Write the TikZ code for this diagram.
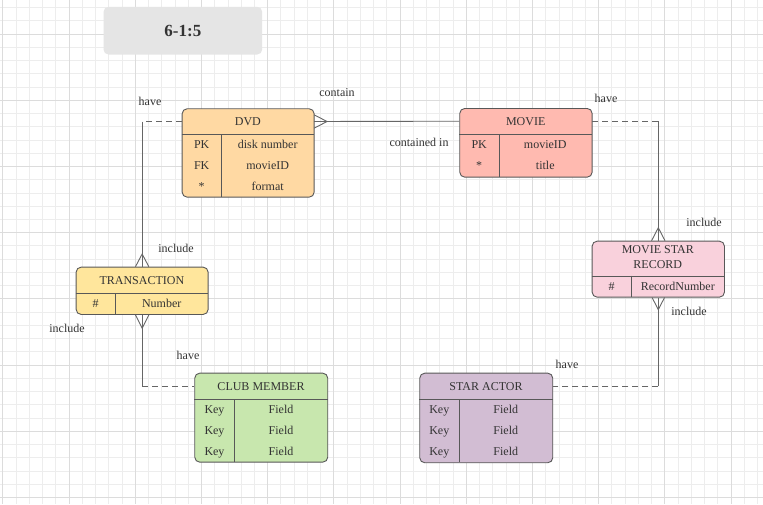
\documentclass[tikz,border=0pt]{standalone}
\usepackage{fontspec}
\setmainfont{Liberation Serif}
\usetikzlibrary{calc}

\definecolor{gridminor}{HTML}{EDEDED}
\definecolor{gridmajor}{HTML}{DCDCDC}
\definecolor{inkline}{HTML}{666666}
\definecolor{border}{HTML}{585858}
\definecolor{txt}{HTML}{333333}
\definecolor{dvdfill}{HTML}{FFD9A3}
\definecolor{moviefill}{HTML}{FFBAB0}
\definecolor{transfill}{HTML}{FFE69C}
\definecolor{msrfill}{HTML}{F9D1DC}
\definecolor{clubfill}{HTML}{C8E7AE}
\definecolor{starfill}{HTML}{D2BDD3}
\definecolor{titlefill}{HTML}{E5E5E5}

\begin{document}
\begin{tikzpicture}[x=1pt,y=-1pt,
  every node/.style={inner sep=0pt, text=txt},
  basefont/.style={font=\fontsize{12}{14}\selectfont, text height=8pt, text depth=0pt},
  entbox/.style={draw=border, line width=0.9pt, rounded corners=5pt, anchor=north west, minimum width=132pt},
  hdr/.style={basefont, anchor=north west, minimum width=132pt, minimum height=26pt},
  cell/.style={basefont},
  lbl/.style={basefont},
  rowline/.style={draw=border, line width=0.9pt},
  conn/.style={draw=inkline, line width=0.9pt},
  dashconn/.style={conn, dash pattern=on 6pt off 4pt},
  gminor/.style={draw=gridminor, line width=0.7pt},
  gmajor/.style={draw=gridmajor, line width=0.8pt}
]

% page and grid
\fill[white] (0,0) rectangle (763,504);
\useasboundingbox (0,0) rectangle (763,504);
\foreach \k in {0,...,57} \draw[gminor] ({2.8+13.24*\k},0) -- ({2.8+13.24*\k},504);
\foreach \k in {0,...,37} \draw[gminor] (0,{7.52+13.24*\k}) -- (763,{7.52+13.24*\k});
\foreach \k in {0,...,11} \draw[gmajor] ({2.8+66.2*\k},0) -- ({2.8+66.2*\k},504);
\foreach \k in {0,...,7} \draw[gmajor] (0,{34+66.2*\k}) -- (763,{34+66.2*\k});

% title
\node[fill=titlefill, rounded corners=5pt, minimum width=158.7pt, minimum height=47.6pt,
      anchor=north west, font=\bfseries\fontsize{17}{20}\selectfont] (title) at (103.3,6.7) {6-1:5};

% DVD
\node[entbox, fill=dvdfill, minimum height=88.4pt] (dvd) at (181.7,108.3) {};
\node[hdr] (dvdH) at (dvd.north west) {DVD};
\draw[rowline] (dvdH.south west) -- (dvdH.south east);
\draw[rowline] (221.7,134.3) -- (221.7,196.7);
\node[cell] (dvdk1) at (201.7,144.7) {PK};
\node[cell] (dvdf1) at (267.7,144.7) {disk number};
\node[cell] (dvdk2) at (201.7,165.5) {FK};
\node[cell] (dvdf2) at (267.7,165.5) {movieID};
\node[cell] (dvdk3) at (201.7,186.3) {*};
\node[cell] (dvdf3) at (267.7,186.3) {format};

% MOVIE
\node[entbox, fill=moviefill, minimum height=68.7pt, minimum width=132.4pt] (movie) at (459.3,108) {};
\node[hdr, minimum width=132.4pt] (movieH) at (movie.north west) {MOVIE};
\draw[rowline] (movieH.south west) -- (movieH.south east);
\draw[rowline] (499,134) -- (499,176.7);
\node[cell] (moviek1) at (479.2,144.5) {PK};
\node[cell] (movief1) at (545.3,144.5) {movieID};
\node[cell] (moviek2) at (479.2,165.5) {*};
\node[cell] (movief2) at (545.3,165.5) {title};

% TRANSACTION
\node[entbox, fill=transfill, minimum height=47.3pt] (trans) at (75.7,266.7) {};
\node[hdr, minimum height=26.3pt] (transH) at (trans.north west) {TRANSACTION};
\draw[rowline] (transH.south west) -- (transH.south east);
\draw[rowline] (115.7,293) -- (115.7,314);
\node[cell] (transk1) at (95.7,303.5) {\#};
\node[cell] (transf1) at (161.7,303.5) {Number};

% MOVIE STAR RECORD
\node[entbox, fill=msrfill, minimum height=56pt, minimum width=132.3pt] (msr) at (591.7,240.7) {};
\node[hdr, minimum width=132.3pt, minimum height=35pt] (msrH) at (msr.north west) {};
\node[cell] (msrt1) at (657.8,249.8) {MOVIE STAR};
\node[cell] (msrt2) at (657.8,264) {RECORD};
\draw[rowline] (msrH.south west) -- (msrH.south east);
\draw[rowline] (631.7,275.7) -- (631.7,296.7);
\node[cell] (msrk1) at (611.7,286.2) {\#};
\node[cell] (msrf1) at (677.8,286.2) {RecordNumber};

% CLUB MEMBER
\node[entbox, fill=clubfill, minimum height=89pt, minimum width=133pt] (club) at (194.3,372.7) {};
\node[hdr, minimum width=133pt, minimum height=26.6pt] (clubH) at (club.north west) {CLUB MEMBER};
\draw[rowline] (clubH.south west) -- (clubH.south east);
\draw[rowline] (234.7,399.3) -- (234.7,461.7);
\foreach \r/\yy in {1/409.7, 2/430.5, 3/451.3} {
  \node[cell] (clubk\r) at (214.5,\yy) {Key};
  \node[cell] (clubf\r) at (281,\yy) {Field};
}

% STAR ACTOR
\node[entbox, fill=starfill, minimum height=89.6pt, minimum width=133pt] (star) at (419.3,372.7) {};
\node[hdr, minimum width=133pt, minimum height=26.6pt] (starH) at (star.north west) {STAR ACTOR};
\draw[rowline] (starH.south west) -- (starH.south east);
\draw[rowline] (459.3,399.3) -- (459.3,462.3);
\foreach \r/\yy in {1/409.7, 2/430.5, 3/451.3} {
  \node[cell] (stark\r) at (439.3,\yy) {Key};
  \node[cell] (starf\r) at (505.8,\yy) {Field};
}

% DVD -- MOVIE (many DVDs per movie)
\draw[conn] (dvdH.east) -- (movieH.west);
\draw[conn] ($(dvdH.east)+(0,-6.7)$) -- ($(dvdH.east)+(13,0)$) -- ($(dvdH.east)+(0,6.7)$);

% DVD -- TRANSACTION
\coordinate (bendA) at (dvdH.west -| trans.north);
\draw[dashconn] (dvdH.west) -- (bendA);
\draw[conn] (bendA) -- (trans.north);
\draw[conn] ($(trans.north)+(-6.7,0)$) -- ($(trans.north)+(0,-12.7)$) -- ($(trans.north)+(6.7,0)$);

% TRANSACTION -- CLUB MEMBER
\coordinate (bendB) at (trans.south |- clubH.west);
\draw[conn] (trans.south) -- (bendB);
\draw[dashconn] (bendB) -- (clubH.west);
\draw[conn] ($(trans.south)+(-6.7,0)$) -- ($(trans.south)+(0,13.3)$) -- ($(trans.south)+(6.7,0)$);

% MOVIE -- MOVIE STAR RECORD
\coordinate (bendC) at (movieH.east -| msr.north);
\draw[dashconn] (movieH.east) -- (bendC);
\draw[conn] (bendC) -- (msr.north);
\draw[conn] ($(msr.north)+(-6.7,0)$) -- ($(msr.north)+(0,-13)$) -- ($(msr.north)+(6.7,0)$);

% MOVIE STAR RECORD -- STAR ACTOR
\coordinate (bendD) at (msr.south |- starH.east);
\draw[conn] (msr.south) -- (bendD);
\draw[dashconn] (bendD) -- (starH.east);
\draw[conn] ($(msr.south)+(-6.2,0)$) -- ($(msr.south)+(0,12)$) -- ($(msr.south)+(6.2,0)$);

% relationship labels
\node[lbl] (l1) at (150,101) {have};
\node[lbl] (l2) at (337,92) {contain};
\node[lbl] (l3) at (606,98) {have};
\node[lbl] (l4) at (419,142) {contained in};
\node[lbl] (l5) at (176,248) {include};
\node[lbl] (l6) at (704,222) {include};
\node[lbl] (l7) at (67,328) {include};
\node[lbl] (l8) at (689,311) {include};
\node[lbl] (l9) at (188,355) {have};
\node[lbl] (l10) at (567,364) {have};

\end{tikzpicture}
\end{document}
